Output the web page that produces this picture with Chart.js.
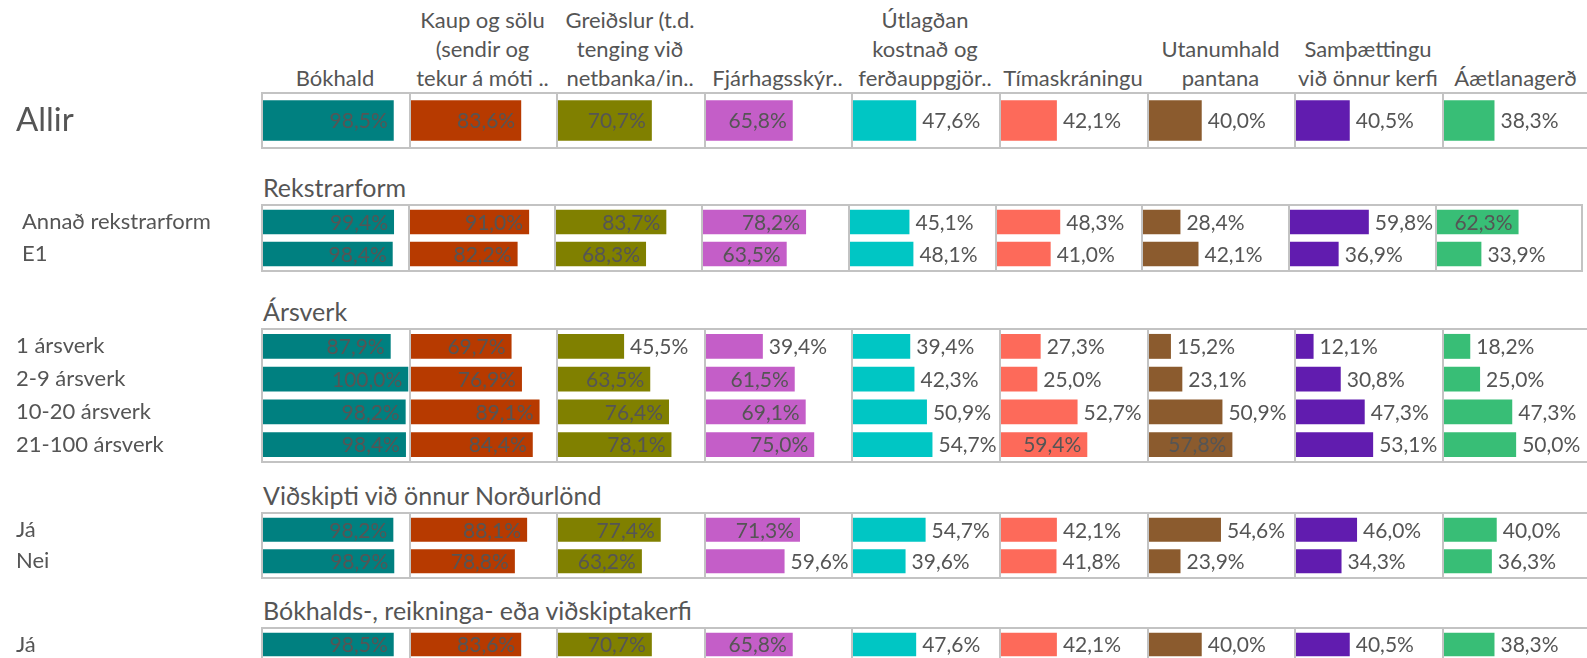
<!DOCTYPE html>
<html>
<head>
<meta charset="utf-8">
<script src="https://cdn.jsdelivr.net/npm/chart.js@4.4.1/dist/chart.umd.min.js"></script>
<style>
body { margin: 0; background: #fff; }
#wrap { position: relative; width: 1587px; height: 658px; overflow: hidden; font-family: Lato, sans-serif; color: #555; }
.head { position: absolute; text-align: center; font-size: 22px; line-height: 29px; white-space: nowrap; }
.sect { position: absolute; font-size: 25px; line-height: 25px; white-space: nowrap; }
canvas { position: absolute; }
</style>
</head>
<body>
<div id="wrap"></div>
<script>
// column headers (as shown, already cut off)
const categories = [
    ['Bókhald'],
    ['Kaup og sölu', '(sendir og', 'tekur á móti ..'],
    ['Greiðslur (t.d.', 'tenging við', 'netbanka/in..'],
    ['Fjárhagsskýr..'],
    ['Útlagðan', 'kostnað og', 'ferðauppgjör..'],
    ['Tímaskráningu'],
    ['Utanumhald', 'pantana'],
    ['Samþættingu', 'við önnur kerfi'],
    ['Áætlanagerð']
];

const allirRows = ['Allir'];
const allirValues = [
    [98.5, 83.6, 70.7, 65.8, 47.6, 42.1, 40.0, 40.5, 38.3]
];

const rekstrarformRows = ['Annað rekstrarform', 'E1'];
const rekstrarformValues = [
    [99.4, 91.0, 83.7, 78.2, 45.1, 48.3, 28.4, 59.8, 62.3],
    [98.4, 82.2, 68.3, 63.5, 48.1, 41.0, 42.1, 36.9, 33.9]
];

const arsverkRows = ['1 ársverk', '2-9 ársverk', '10-20 ársverk', '21-100 ársverk'];
const arsverkValues = [
    [87.9, 69.7, 45.5, 39.4, 39.4, 27.3, 15.2, 12.1, 18.2],
    [100.0, 76.9, 63.5, 61.5, 42.3, 25.0, 23.1, 30.8, 25.0],
    [98.2, 89.1, 76.4, 69.1, 50.9, 52.7, 50.9, 47.3, 47.3],
    [98.4, 84.4, 78.1, 75.0, 54.7, 59.4, 57.8, 53.1, 50.0]
];

const vidskiptiRows = ['Já', 'Nei'];
const vidskiptiValues = [
    [98.2, 88.1, 77.4, 71.3, 54.7, 42.1, 54.6, 46.0, 40.0],
    [98.9, 78.8, 63.2, 59.6, 39.6, 41.8, 23.9, 34.3, 36.3]
];

const kerfiRows = ['Já'];
const kerfiValues = [
    [98.5, 83.6, 70.7, 65.8, 47.6, 42.1, 40.0, 40.5, 38.3]
];

const sections = [
    { title: '', rows: allirRows, values: allirValues },
    { title: 'Rekstrarform', rows: rekstrarformRows, values: rekstrarformValues },
    { title: 'Ársverk', rows: arsverkRows, values: arsverkValues },
    { title: 'Viðskipti við önnur Norðurlönd', rows: vidskiptiRows, values: vidskiptiValues },
    { title: 'Bókhalds-, reikninga- eða viðskiptakerfi', rows: kerfiRows, values: kerfiValues }
];

const colors = ['#008080', '#b73a00', '#808000', '#c45ec8', '#00c6c4', '#fd6a5a', '#8b5b2e', '#611caf', '#38be76'];

// layout
const PANEL_LEFT = 261;
const panelWidth = [147.6, 146.7, 147.6, 147.6, 147.6];
const panelTop = [92, 204, 328, 512, 627];
const panelHeight = [57, 68, 135, 67, 35];
const axisMax = [110, 110, 100.5, 110, 110];
const labelLeft = [16, 22, 16, 16, 16];
const rowFont = [33, 22, 22, 22, 22];
const GRAY = '#555';
const BORDER = '#c3c3c3';

Chart.defaults.font.family = 'Lato';

function edge(s, c) {
    return Math.round(PANEL_LEFT + c * panelWidth[s]);
}

function fmt(v) {
    return v.toFixed(1).replace('.', ',') + '%';
}

const panelBorder = {
    id: 'panelBorder',
    afterDraw(chart) {
        const { ctx, chartArea: a } = chart;
        const last = chart.options.plugins.panelBorder.last;
        ctx.save();
        ctx.strokeStyle = BORDER;
        ctx.lineWidth = 2;
        ctx.beginPath();
        ctx.moveTo(a.left - 2, a.top - 1);
        ctx.lineTo(chart.width, a.top - 1);
        ctx.moveTo(a.left - 2, a.bottom + 1);
        ctx.lineTo(chart.width, a.bottom + 1);
        ctx.moveTo(a.left - 1, a.top - 2);
        ctx.lineTo(a.left - 1, a.bottom + 2);
        if (last) {
            ctx.moveTo(a.right + 1, a.top - 2);
            ctx.lineTo(a.right + 1, a.bottom + 2);
        }
        ctx.stroke();
        ctx.restore();
    }
};

const valueLabels = {
    id: 'valueLabels',
    afterDatasetsDraw(chart) {
        const { ctx, chartArea } = chart;
        const meta = chart.getDatasetMeta(0);
        const data = chart.data.datasets[0].data;
        ctx.save();
        ctx.font = '21px Lato';
        ctx.fillStyle = GRAY;
        ctx.textBaseline = 'middle';
        meta.data.forEach((bar, i) => {
            const txt = fmt(data[i]);
            const w = ctx.measureText(txt).width;
            if (bar.x + 6 + w <= chartArea.right) {
                ctx.textAlign = 'left';
                ctx.fillText(txt, bar.x + 6, bar.y + 1);
            } else {
                ctx.textAlign = 'right';
                ctx.fillText(txt, bar.x - 6, bar.y + 1);
            }
        });
        ctx.restore();
    }
};

const wrap = document.getElementById('wrap');

// column headers over the top panels
categories.forEach((lines, c) => {
    const div = document.createElement('div');
    div.className = 'head';
    div.style.left = edge(0, c) + 'px';
    div.style.width = (edge(0, c + 1) - edge(0, c)) + 'px';
    div.style.top = (92 - lines.length * 29) + 'px';
    div.innerHTML = lines.join('<br>');
    wrap.appendChild(div);
});

sections.forEach((sec, s) => {
    if (sec.title) {
        const t = document.createElement('div');
        t.className = 'sect';
        t.style.left = '263px';
        t.style.top = (panelTop[s] - 29) + 'px';
        t.textContent = sec.title;
        wrap.appendChild(t);
    }

    for (let c = 0; c < categories.length; c++) {
        const first = c === 0;
        const last = c === categories.length - 1;
        const x0 = first ? 0 : edge(s, c);
        const x1 = edge(s, c + 1) + (last ? 2 : 0);
        const canvas = document.createElement('canvas');
        canvas.width = x1 - x0;
        canvas.height = panelHeight[s];
        canvas.style.left = x0 + 'px';
        canvas.style.top = panelTop[s] + 'px';
        wrap.appendChild(canvas);

        new Chart(canvas, {
            type: 'bar',
            data: {
                labels: sec.rows,
                datasets: [{
                    data: sec.values.map(r => r[c]),
                    backgroundColor: colors[c],
                    borderWidth: 0,
                    barPercentage: 0.76,
                    categoryPercentage: 1
                }]
            },
            options: {
                indexAxis: 'y',
                responsive: false,
                animation: false,
                events: [],
                layout: {
                    padding: { left: first ? labelLeft[s] : 2, right: last ? 2 : 0, top: 2, bottom: 2 }
                },
                plugins: {
                    legend: { display: false },
                    tooltip: { enabled: false },
                    panelBorder: { last: last }
                },
                scales: {
                    x: { display: false, min: 0, max: axisMax[s] },
                    y: {
                        display: first,
                        grid: { display: false },
                        border: { display: false },
                        ticks: {
                            color: GRAY,
                            font: { size: rowFont[s] },
                            crossAlign: 'far',
                            padding: 0,
                            autoSkip: false
                        },
                        afterFit: scale => {
                            if (!first) return;
                            // row labels sit left of the first panel, no extra vertical room
                            scale.width = edge(s, 0) + 2 - labelLeft[s];
                            scale.paddingTop = 0;
                            scale.paddingBottom = 0;
                        }
                    }
                }
            },
            plugins: [valueLabels, panelBorder]
        });
    }
});
</script>
</body>
</html>
